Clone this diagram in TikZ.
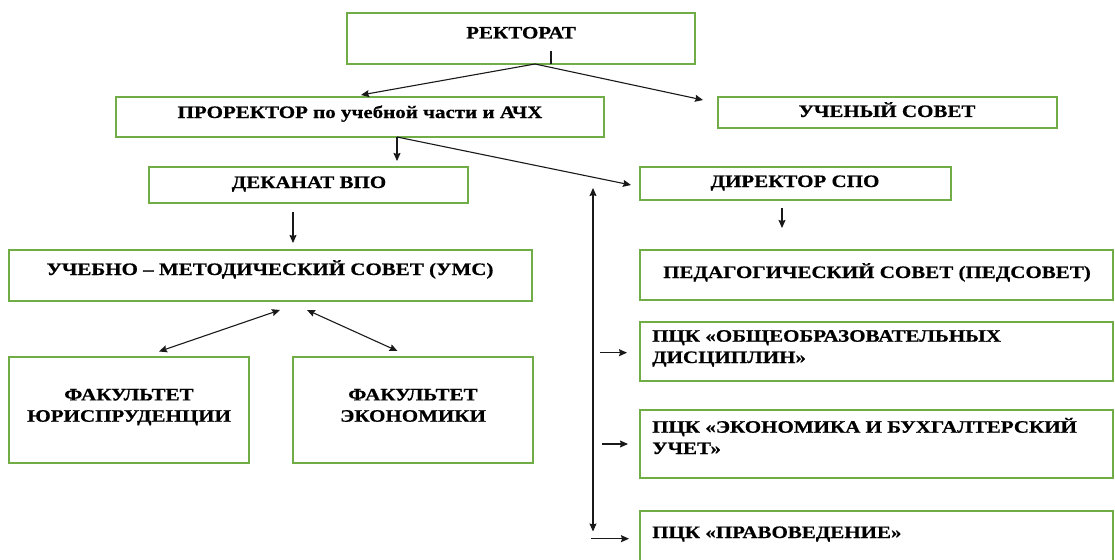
\documentclass[tikz,border=0pt]{standalone}
\usepackage{fontspec}
\setmainfont{Liberation Serif}[FakeStretch=1.20, FakeBold=0.6]
\usetikzlibrary{arrows.meta,fit}
\definecolor{bgreen}{RGB}{112,173,71}
\tikzset{
  box/.style={draw=bgreen, line width=1.5pt, inner sep=0pt},
  lbl/.style={font=\bfseries\fontsize{17.5}{21.3}\selectfont, inner sep=0pt, anchor=base},
  conn/.style={line width=1.1pt, black!90},
  arr/.style={conn, -{Stealth[length=8pt,width=7pt,inset=1pt]}},
  darr/.style={conn, {Stealth[length=8pt,width=7pt,inset=1pt]}-{Stealth[length=8pt,width=7pt,inset=1pt]}},
}
\begin{document}
\begin{tikzpicture}[x=1pt,y=-1pt]
\useasboundingbox (0,0) rectangle (1115,559);
\clip (0,0) rectangle (1115,559);
% boxes
\node[box, fit={(347,13)(695,64)}] (rek) {};
\node[box, fit={(116,97)(604,137)}] (pro) {};
\node[box, fit={(718,97)(1057,128)}] (sov) {};
\node[box, fit={(149,167)(468,203)}] (dek) {};
\node[box, fit={(640,167)(951,200)}] (dir) {};
\node[box, fit={(9,250)(532,301)}] (ums) {};
\node[box, fit={(640,250)(1113,300)}] (ped) {};
\node[box, fit={(9,357)(249,463)}] (f1) {};
\node[box, fit={(293,357)(533,463)}] (f2) {};
\node[box, fit={(640,322)(1113,381)}] (p1) {};
\node[box, fit={(640,410)(1113,478)}] (p2) {};
\node[box, fit={(640,511)(1113,580)}] (p3) {};
% texts
\node[lbl] (rekT) at (521,38.5) {РЕКТОРАТ};
\node[lbl] (proT) at (360,118) {ПРОРЕКТОР по учебной части и АЧХ};
\node[lbl] (sovT) at (887,117) {УЧЕНЫЙ СОВЕТ};
\node[lbl] (dekT) at (309,188) {ДЕКАНАТ ВПО};
\node[lbl] (dirT) at (795,187) {ДИРЕКТОР СПО};
\node[lbl] (umsT) at (270,275) {УЧЕБНО – МЕТОДИЧЕСКИЙ СОВЕТ (УМС)};
\node[lbl] (pedT) at (877,278) {ПЕДАГОГИЧЕСКИЙ СОВЕТ (ПЕДСОВЕТ)};
\node[lbl, align=center] (f1T) at (129,421.7) {ФАКУЛЬТЕТ\\ЮРИСПРУДЕНЦИИ};
\node[lbl, align=center] (f2T) at (413,421.7) {ФАКУЛЬТЕТ\\ЭКОНОМИКИ};
\node[lbl, align=left, anchor=base west] (p1T) at (652,363) {ПЦК «ОБЩЕОБРАЗОВАТЕЛЬНЫХ\\ДИСЦИПЛИН»};
\node[lbl, align=left, anchor=base west] (p2T) at (652,454) {ПЦК «ЭКОНОМИКА И БУХГАЛТЕРСКИЙ\\УЧЕТ»};
\node[lbl, anchor=base west] (p3T) at (652,538) {ПЦК «ПРАВОВЕДЕНИЕ»};
% connector points
\coordinate (r0) at (535,64);
\coordinate (rtick) at (551,51);
\coordinate (rtickb) at (551,64);
\coordinate (proIn) at (361,95);
\coordinate (sovIn) at (703,100);
\coordinate (p0) at (397,137);
\coordinate (dekIn) at (397,161);
\coordinate (dirIn) at (631,185);
\coordinate (d0) at (293,212);
\coordinate (umsIn) at (293,243);
\coordinate (s0) at (782,208);
\coordinate (pedIn) at (782,228);
\coordinate (uL) at (280,310);
\coordinate (f1In) at (159,351.5);
\coordinate (uR) at (307,310);
\coordinate (f2In) at (397.5,351);
\coordinate (vTop) at (593,188);
\coordinate (vBot) at (593,531.5);
\coordinate (a1) at (600,352.7);
\coordinate (p1In) at (627,352.7);
\coordinate (a2) at (602,444);
\coordinate (p2In) at (628,444);
\coordinate (a3) at (591,538.7);
\coordinate (p3In) at (629,538.7);
% connectors
\draw[conn] (rtick) -- (rtickb);
\draw[arr] (r0) -- (proIn);
\draw[arr] (r0) -- (sovIn);
\draw[arr] (p0) -- (dekIn);
\draw[arr] (p0) -- (dirIn);
\draw[arr] (d0) -- (umsIn);
\draw[arr] (s0) -- (pedIn);
\draw[darr] (f1In) -- (uL);
\draw[darr] (uR) -- (f2In);
\draw[darr] (vTop) -- (vBot);
\draw[arr] (a1) -- (p1In);
\draw[arr] (a2) -- (p2In);
\draw[arr] (a3) -- (p3In);
\end{tikzpicture}
\end{document}
